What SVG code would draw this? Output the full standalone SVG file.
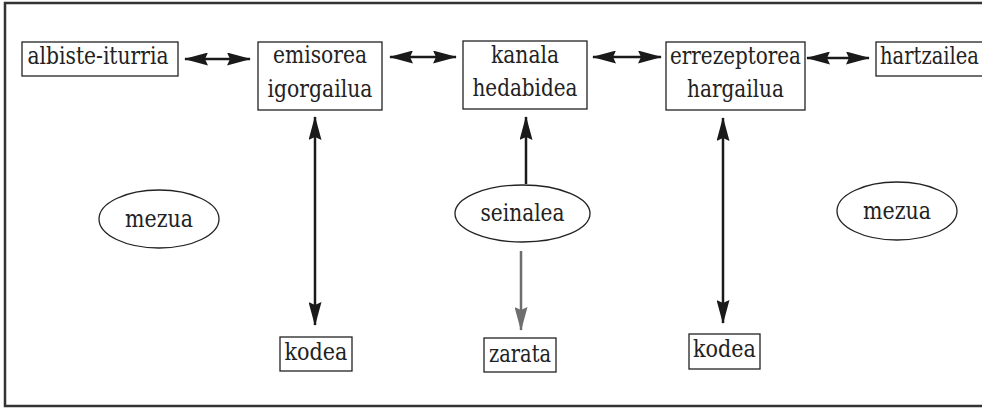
<svg xmlns="http://www.w3.org/2000/svg" width="982" height="408" viewBox="0 0 982 408">
<style>
.box{fill:#fff;stroke:#222;stroke-width:1.3}
.ell{fill:#fff;stroke:#222;stroke-width:1.3}
.t{font-family:"DejaVu Serif","Liberation Serif",serif;font-size:24px;fill:#222;text-anchor:middle}
.c{stroke:#1a1a1a;stroke-width:2.5;fill:none}
.g{stroke:#6e6e6e;stroke-width:2.5;fill:none}
</style>
<defs>
<marker id="ah" markerUnits="userSpaceOnUse" markerWidth="24" markerHeight="13" refX="23" refY="6.5" orient="auto-start-reverse" viewBox="0 0 24 13">
<path d="M0,0 L24,6.5 L0,13 L3,6.5 z" fill="#1a1a1a"/>
</marker>
<marker id="ahg" markerUnits="userSpaceOnUse" markerWidth="24" markerHeight="13" refX="23" refY="6.5" orient="auto" viewBox="0 0 24 13">
<path d="M0,0 L24,6.5 L0,13 L3,6.5 z" fill="#6e6e6e"/>
</marker>
</defs>
<rect x="0" y="0" width="982" height="408" fill="#fff"/>
<rect x="5" y="3" width="990" height="403" fill="none" stroke="#333" stroke-width="2.5"/>

<g id="connectors">
<line class="c" x1="185" y1="59" x2="250" y2="59" marker-start="url(#ah)" marker-end="url(#ah)"/>
<line class="c" x1="390" y1="57" x2="456" y2="57" marker-start="url(#ah)" marker-end="url(#ah)"/>
<line class="c" x1="593" y1="57" x2="661" y2="57" marker-start="url(#ah)" marker-end="url(#ah)"/>
<line class="c" x1="807" y1="58" x2="869" y2="58" marker-start="url(#ah)" marker-end="url(#ah)"/>
<line class="c" x1="315" y1="117" x2="315" y2="325" marker-start="url(#ah)" marker-end="url(#ah)"/>
<line class="c" x1="526" y1="184" x2="526" y2="117" marker-end="url(#ah)"/>
<line class="g" x1="521" y1="251" x2="521" y2="330" marker-end="url(#ahg)"/>
<line class="c" x1="723" y1="118" x2="723" y2="323" marker-start="url(#ah)" marker-end="url(#ah)"/>
</g>

<g id="albiste-iturria">
<rect class="box" x="22" y="42" width="156" height="34"/>
<text class="t" x="98" y="64" textLength="141" lengthAdjust="spacingAndGlyphs">albiste-iturria</text>
</g>
<g id="emisorea">
<rect class="box" x="258" y="42" width="124" height="68"/>
<text class="t" x="320" y="63" textLength="94" lengthAdjust="spacingAndGlyphs">emisorea</text>
<text class="t" x="320" y="97" textLength="105" lengthAdjust="spacingAndGlyphs">igorgailua</text>
</g>
<g id="kanala">
<rect class="box" x="463" y="41" width="124" height="68"/>
<text class="t" x="525" y="63" textLength="68" lengthAdjust="spacingAndGlyphs">kanala</text>
<text class="t" x="525" y="96" textLength="105" lengthAdjust="spacingAndGlyphs">hedabidea</text>
</g>
<g id="errezeptorea">
<rect class="box" x="666" y="42" width="139" height="68"/>
<text class="t" x="735.5" y="64" textLength="131" lengthAdjust="spacingAndGlyphs">errezeptorea</text>
<text class="t" x="735.5" y="97" textLength="97" lengthAdjust="spacingAndGlyphs">hargailua</text>
</g>
<g id="hartzailea">
<rect class="box" x="876" y="42" width="130" height="34"/>
<text class="t" x="880" y="64" style="text-anchor:start" textLength="99" lengthAdjust="spacingAndGlyphs">hartzailea</text>
</g>
<g id="mezua1">
<ellipse class="ell" cx="159" cy="219" rx="60" ry="29"/>
<text class="t" x="159" y="227" textLength="68" lengthAdjust="spacingAndGlyphs">mezua</text>
</g>
<g id="seinalea">
<ellipse class="ell" cx="522.5" cy="213.5" rx="67.5" ry="28.5"/>
<text class="t" x="522.5" y="221" textLength="84" lengthAdjust="spacingAndGlyphs">seinalea</text>
</g>
<g id="mezua2">
<ellipse class="ell" cx="897" cy="211" rx="60" ry="29"/>
<text class="t" x="897" y="219" textLength="68" lengthAdjust="spacingAndGlyphs">mezua</text>
</g>
<g id="kodea1">
<rect class="box" x="280" y="337" width="72" height="34"/>
<text class="t" x="316" y="360" textLength="63" lengthAdjust="spacingAndGlyphs">kodea</text>
</g>
<g id="zarata">
<rect class="box" x="484" y="338" width="72" height="34"/>
<text class="t" x="520" y="362" textLength="62" lengthAdjust="spacingAndGlyphs">zarata</text>
</g>
<g id="kodea2">
<rect class="box" x="689" y="334" width="71" height="35"/>
<text class="t" x="724.5" y="357" textLength="63" lengthAdjust="spacingAndGlyphs">kodea</text>
</g>
</svg>
